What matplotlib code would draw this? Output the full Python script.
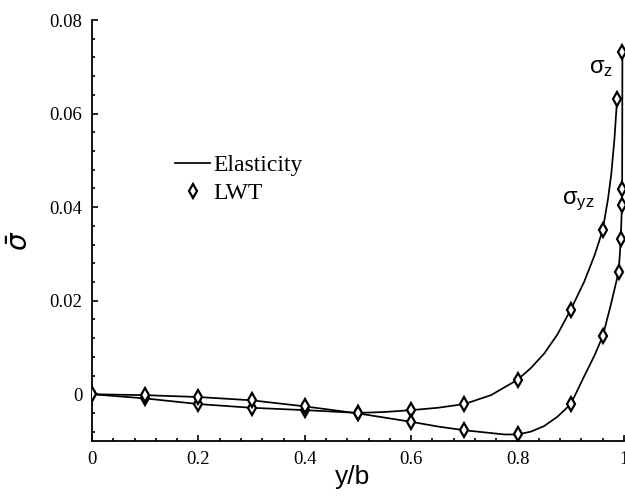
import matplotlib
matplotlib.use("Agg")
import matplotlib.pyplot as plt
from matplotlib.lines import Line2D
from matplotlib.ticker import MultipleLocator, FixedLocator

# ---- data ----
# sigma_yz (curve that rises first on the right)
yz_elastic_x = [0, 0.1, 0.2, 0.3, 0.4, 0.5, 0.55, 0.6, 0.65, 0.7, 0.75, 0.8, 0.825, 0.85, 0.875,
                0.9, 0.925, 0.945, 0.96, 0.97, 0.976, 0.982, 0.987]
yz_elastic_y = [0, -0.0009, -0.0021, -0.0029, -0.0034, -0.0040, -0.0038, -0.0034, -0.0029, -0.0021,
                -0.0002, 0.0031, 0.0056, 0.0087, 0.0128, 0.0181, 0.0240, 0.0298, 0.0351, 0.0418,
                0.0470, 0.0545, 0.0631]
yz_lwt_x = [0, 0.1, 0.2, 0.3, 0.4, 0.5, 0.6, 0.7, 0.8, 0.9, 0.96, 0.987]
yz_lwt_y = [0, -0.0009, -0.0021, -0.0029, -0.0034, -0.0041, -0.0034, -0.0021, 0.0031, 0.0181,
            0.0351, 0.0631]

# sigma_z (curve that dips lowest, then jumps at the edge)
z_elastic_x = [0, 0.1, 0.2, 0.3, 0.4, 0.5, 0.6, 0.65, 0.7, 0.75, 0.775, 0.8, 0.825, 0.85, 0.875,
               0.9, 0.925, 0.945, 0.96, 0.975, 0.985, 0.99, 0.994, 0.996, 0.9965, 0.997]
z_elastic_y = [0, -0.0002, -0.0006, -0.0013, -0.0026, -0.0041, -0.0059, -0.0069, -0.0077, -0.0083,
               -0.0086, -0.0086, -0.0080, -0.0068, -0.0048, -0.0021, 0.0038, 0.0084, 0.0124,
               0.0190, 0.0238, 0.0262, 0.0332, 0.0404, 0.0439, 0.0732]
z_lwt_x = [0, 0.1, 0.2, 0.3, 0.4, 0.5, 0.6, 0.7, 0.8, 0.9, 0.96, 0.99, 0.994, 0.996, 0.9965, 0.997]
z_lwt_y = [0, -0.0002, -0.0006, -0.0013, -0.0026, -0.0041, -0.0059, -0.0077, -0.0086, -0.0021,
           0.0124, 0.0262, 0.0332, 0.0404, 0.0439, 0.0732]

x_ticks = [0, 0.2, 0.4, 0.6, 0.8, 1.0]
x_tick_labels = ["0", "0.2", "0.4", "0.6", "0.8", "1"]
y_ticks = [0, 0.02, 0.04, 0.06, 0.08]
y_tick_labels = ["0", "0.02", "0.04", "0.06", "0.08"]

serif = ["Liberation Serif", "DejaVu Serif"]
sans = ["Liberation Sans", "DejaVu Sans"]

plt.rcParams["mathtext.fontset"] = "dejavusans"

fig = plt.figure(figsize=(6.25, 4.98), dpi=100)
ax = fig.add_axes([92 / 625, 57 / 498, 532 / 625, 421 / 498])

lw = 1.25
mk = dict(marker="d", markersize=7.5, markerfacecolor="white", markeredgecolor="black",
          markeredgewidth=1.6, linestyle="none", zorder=3)

ax.plot(yz_elastic_x, yz_elastic_y, color="black", lw=lw, zorder=2)
ax.plot(z_elastic_x, z_elastic_y, color="black", lw=lw, zorder=2)
ax.plot(yz_lwt_x, yz_lwt_y, **mk)
ax.plot(z_lwt_x, z_lwt_y, **mk)

ax.set_xlim(0, 1.0)
ax.set_ylim(-0.01, 0.08)

for s in ["top", "right"]:
    ax.spines[s].set_visible(False)
for s in ["left", "bottom"]:
    ax.spines[s].set_linewidth(1.3)

ax.xaxis.set_major_locator(FixedLocator(x_ticks))
ax.set_xticklabels(x_tick_labels)
ax.yaxis.set_major_locator(FixedLocator(y_ticks))
ax.set_yticklabels(y_tick_labels)
ax.xaxis.set_minor_locator(MultipleLocator(0.04))
ax.yaxis.set_minor_locator(MultipleLocator(0.004))
ax.tick_params(which="major", direction="in", length=4, width=1.2, pad=7)
ax.tick_params(which="minor", direction="in", length=2, width=1.2)
for lab in ax.get_xticklabels() + ax.get_yticklabels():
    lab.set_fontfamily(serif)
    lab.set_fontsize(13.5)

fig.text(353 / 625, 1 - 477 / 498, "y/b", ha="center", va="center", fontsize=19, family=sans)
fig.text(21 / 625, 1 - 241 / 498, r"$\bar{\sigma}$", ha="center", va="center", fontsize=20,
         rotation=90, family=sans)

ax.text(0.935, 0.0698, r"$\mathregular{\sigma_{z}}$", fontsize=17, family=sans, ha="left", va="center")
ax.text(0.883, 0.0412, r"$\mathregular{\sigma_{yz}}$", fontsize=17, family=sans, ha="left", va="center")

handles = [Line2D([], [], color="black", lw=lw),
           Line2D([], [], **mk)]
leg = ax.legend(handles, ["Elasticity", "LWT"], loc="upper left",
                bbox_to_anchor=(163 / 625, 1 - 143 / 498), bbox_transform=fig.transFigure,
                frameon=False, prop={"family": serif, "size": 17},
                handlelength=1.5, handletextpad=0.15, labelspacing=0.27, borderpad=0)

fig.savefig("out.png", dpi=100)
